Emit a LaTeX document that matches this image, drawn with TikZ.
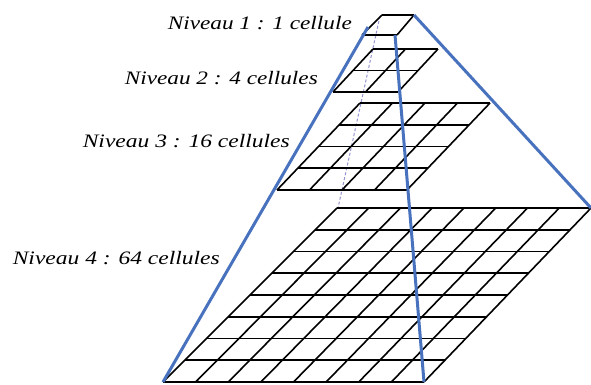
\documentclass[tikz,border=0pt]{standalone}
\usepackage{fontspec}
\setmainfont{Liberation Serif}
\usetikzlibrary{calc}
\definecolor{pyrblue}{RGB}{72,114,190}
\newcommand{\quadgrid}[5]{%
  \foreach \i in {0,...,#5}{%
    \draw[gridline] ($(#1)!\i/#5!(#3)$) -- ($(#2)!\i/#5!(#4)$);
    \draw[gridline] ($(#1)!\i/#5!(#2)$) -- ($(#3)!\i/#5!(#4)$);
  }}
\newcommand{\lbltext}[2]{\resizebox{#1}{\height}{\itshape #2}}
\begin{document}
\begin{tikzpicture}[x=1pt,y=-1pt,
  gridline/.style={black,line width=1.6pt},
  edgeline/.style={pyrblue,line width=3pt},
  hiddenline/.style={gray!60!blue!60,line width=1pt,densely dashed},
  lbl/.style={anchor=east,inner sep=0pt,font=\fontsize{19}{22}\selectfont}]
\useasboundingbox (0,0) rectangle (591,385);
\fill[white] (0,0) rectangle (591,385);
% level corners
\coordinate (a1) at (382,15);  \coordinate (b1) at (414,15);
\coordinate (c1) at (362,35);  \coordinate (d1) at (397,35);
\coordinate (a2) at (373,49);  \coordinate (b2) at (438,49);
\coordinate (c2) at (333,92);  \coordinate (d2) at (398,92);
\coordinate (a3) at (360,103); \coordinate (b3) at (490,103);
\coordinate (c3) at (277,190); \coordinate (d3) at (407,190);
\coordinate (a4) at (337,208); \coordinate (b4) at (591,208);
\coordinate (c4) at (163,382); \coordinate (d4) at (424,382);
% hidden edge
\coordinate (h1) at (380,16);
\coordinate (h2) at (338,208);
\draw[hiddenline] (h1) -- (h2);
% grids
\quadgrid{a1}{b1}{c1}{d1}{1}
\quadgrid{a2}{b2}{c2}{d2}{2}
\quadgrid{a3}{b3}{c3}{d3}{4}
\quadgrid{a4}{b4}{c4}{d4}{8}
% pyramid edges
\coordinate (topl) at (368,27);
\coordinate (topm) at (395,35);
\draw[edgeline] (c4) -- (topl);
\draw[edgeline] (d4) -- (topm);
\draw[edgeline] (b4) -- (b1);
% labels
\node[lbl] (n1) at (352,23) {\lbltext{184pt}{Niveau 1 : 1 cellule}};
\node[lbl] (n2) at (318,78) {\lbltext{193pt}{Niveau 2 : 4 cellules}};
\node[lbl] (n3) at (290,141) {\lbltext{207pt}{Niveau 3 : 16 cellules}};
\node[lbl] (n4) at (220,258) {\lbltext{207pt}{Niveau 4 : 64 cellules}};
\end{tikzpicture}
\end{document}
